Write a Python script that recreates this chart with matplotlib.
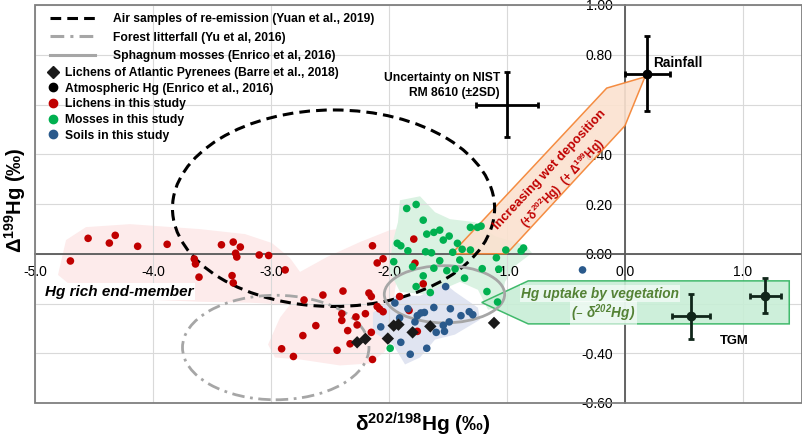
import matplotlib
matplotlib.use('Agg')
import matplotlib.pyplot as plt
from matplotlib.patches import Ellipse, Polygon, Rectangle
from matplotlib.lines import Line2D
import numpy as np

plt.rcParams['font.family'] = ['Liberation Sans', 'DejaVu Sans']
plt.rcParams['mathtext.default'] = 'regular'
plt.rcParams['axes.unicode_minus'] = False

# --- data (per mil) ---
lichens_x = [-4.55, -4.70, -4.37, -4.32, -4.13, -3.88, -3.65, -3.64, -3.61, -3.42,
             -3.32, -3.26, -3.30, -3.29, -3.33, -3.32, -3.10, -3.02, -2.88, -2.72,
             -2.56, -2.39, -2.14, -2.10, -2.05, -2.17, -2.15, -2.10, -2.08, -2.05,
             -2.20, -2.40, -2.40, -2.28, -2.27, -2.35, -2.62, -2.73, -2.33, -2.44,
             -2.91, -2.81, -2.14, -1.79, -1.78, -1.71, -1.91, -1.83, -1.76, -2.15]
lichens_y = [0.062, -0.029, 0.043, 0.074, 0.030, 0.038, -0.021, -0.041, -0.094, 0.036,
             0.047, 0.027, 0.002, -0.013, -0.088, -0.117, -0.005, -0.007, -0.065, -0.186,
             -0.166, -0.150, 0.032, -0.037, -0.020, -0.158, -0.172, -0.212, -0.222, -0.233,
             -0.241, -0.241, -0.268, -0.254, -0.286, -0.309, -0.289, -0.329, -0.362, -0.388,
             -0.382, -0.413, -0.425, 0.059, -0.038, -0.121, -0.172, -0.228, -0.312, -0.316]

mosses_x = [-1.85, -1.77, -1.71, -1.68, -1.62, -1.57, -1.49, -1.54, -1.31, -1.25,
            -1.42, -1.93, -1.90, -1.84, -1.69, -1.64, -1.46, -1.38, -1.31, -1.09,
            -1.01, -0.88, -1.57, -1.40, -1.80, -1.62, -1.51, -1.44, -1.21, -1.71,
            -1.36, -1.77, -1.65, -1.17, -1.08, -1.99, -1.96, -1.22, -0.86, -1.07]
mosses_y = [0.182, 0.198, 0.135, 0.079, 0.086, 0.095, 0.071, 0.055, 0.106, 0.106,
            0.042, 0.042, 0.032, 0.012, 0.008, 0.004, 0.006, 0.018, 0.015, -0.016,
            0.015, 0.011, -0.028, -0.025, -0.052, -0.058, -0.068, -0.061, -0.060, -0.089,
            -0.098, -0.132, -0.156, -0.152, -0.194, -0.380, -0.032, 0.111, 0.023, -0.062]

soils_x = [-1.95, -1.91, -1.84, -1.76, -1.73, -1.70, -1.62, -1.48, -1.39, -1.32, -1.29,
           -1.49, -1.54, -1.60, -1.53, -2.07, -1.90, -1.82, -1.68, -1.52, -0.36, -1.78]
soils_y = [-0.198, -0.258, -0.221, -0.249, -0.238, -0.236, -0.216, -0.221, -0.249, -0.233, -0.245,
           -0.274, -0.288, -0.316, -0.312, -0.294, -0.356, -0.404, -0.380, -0.132, -0.065, -0.274]

pyrenees_x = [-2.27, -2.20, -2.01, -1.96, -1.92, -1.80, -1.65, -1.11]
pyrenees_y = [-0.356, -0.342, -0.341, -0.289, -0.285, -0.316, -0.292, -0.278]

rain_x, rain_y, rain_xerr, rain_yerr = [0.19], [0.724], [0.19], [0.15]
tgm_x = [0.56, 1.19]
tgm_y = [-0.252, -0.169]
tgm_xerr = [0.16, 0.13]
tgm_yerr = [0.09, 0.07]

nist_x, nist_y, nist_xerr, nist_yerr = -1.00, 0.60, 0.26, 0.13

# reference fields: centre x, centre y, width, height
air_ell = (-2.47, 0.183, 2.73, 0.79)
litter_ell = (-2.96, -0.377, 1.58, 0.42)
sphagnum_ell = (-1.53, -0.163, 1.02, 0.23)

# shaded groups (outline in data units)
pink_x = [-4.805, -4.737, -4.568, -4.195, -3.602, -3.220, -2.992, -2.839, -2.754, -2.525,
          -2.246, -1.992, -1.864, -1.805, -1.907, -1.949, -1.992, -2.034, -2.161, -2.415,
          -2.754, -2.966, -3.025, -2.924, -2.839, -3.178, -3.602, -4.025, -4.449, -4.703]
pink_y = [-0.085, 0.055, 0.107, 0.119, 0.099, 0.079, 0.043, -0.017, -0.073, -0.013,
          0.047, 0.095, 0.103, 0.055, -0.033, -0.145, -0.305, -0.393, -0.441, -0.449,
          -0.425, -0.417, -0.365, -0.257, -0.205, -0.197, -0.193, -0.185, -0.153, -0.125]
greenzone_x = [-1.907, -1.737, -1.610, -1.483, -1.271, -1.102, -0.847, -0.788, -0.932, -1.017,
               -1.059, -1.161, -1.246, -1.398, -1.653, -1.907, -1.992, -1.975, -1.924]
greenzone_y = [0.215, 0.231, 0.167, 0.139, 0.127, 0.071, 0.035, 0.003, -0.049, -0.113,
               -0.217, -0.225, -0.145, -0.113, -0.165, -0.153, -0.073, 0.035, 0.127]
bluezone_x = [-2.136, -1.949, -1.737, -1.525, -1.441, -1.246, -1.229, -1.441, -1.610,
              -1.737, -1.864, -1.966, -2.136]
bluezone_y = [-0.237, -0.169, -0.169, -0.121, -0.153, -0.217, -0.265, -0.325, -0.345,
              -0.417, -0.445, -0.365, -0.313]

# arrows
wet_x = [-1.469, -0.155, 0.169, 0.0, -1.003]
wet_y = [0.0, 0.666, 0.711, 0.515, 0.0]
veg_x = [1.392, -0.820, -1.214, -0.820, 1.392]
veg_y = [-0.109, -0.109, -0.196, -0.282, -0.282]

xticks = [-5, -4, -3, -2, -1, 0, 1]
yticks = [-0.6, -0.4, -0.2, 0.0, 0.2, 0.4, 0.6, 0.8, 1.0]
# labels hidden under the two arrows in the original
yhidden = [-0.2, 0.6]

red = '#c00000'
green = '#00b050'
blue = '#2a5a8c'

fig = plt.figure(figsize=(8.03, 4.38), dpi=100)
ax = fig.add_axes([35/803, 35/438, 767/803, 398/438])
ax.set_xlim(-5, 1.5)
ax.set_ylim(-0.6, 1.0)

# axes through zero + frame
ax.spines['left'].set_position(('data', 0))
ax.spines['bottom'].set_position(('data', 0))
ax.spines['top'].set_visible(False)
ax.spines['right'].set_visible(False)
for s in ['left', 'bottom']:
    ax.spines[s].set_color('#595959')
    ax.spines[s].set_linewidth(1.3)
ax.add_patch(Rectangle((0, 0), 1, 1, transform=ax.transAxes, fill=False,
                       ec='#7f7f7f', lw=1.3, clip_on=False, zorder=6))
ax.set_xticks(xticks)
ax.set_xticklabels(['%.1f' % v for v in xticks])
ax.set_yticks(yticks)
ax.set_yticklabels(['' if v in yhidden else '%.2f' % v for v in yticks])
ax.tick_params(length=0, labelsize=10)
ax.tick_params(axis='x', pad=8)
ax.tick_params(axis='y', pad=9)
ax.grid(True, color='#d9d9d9', lw=0.8)
ax.set_axisbelow(True)

# shaded groups
ax.add_patch(Polygon(np.column_stack([pink_x, pink_y]), closed=True, fc='#fdebeb', ec='none', zorder=0.3))
ax.add_patch(Polygon(np.column_stack([greenzone_x, greenzone_y]), closed=True, fc='#daf2e2', ec='none', zorder=0.35))
ax.add_patch(Polygon(np.column_stack([bluezone_x, bluezone_y]), closed=True, fc='#e0e4f1', ec='none', zorder=0.36))

# arrows
ax.add_patch(Polygon(np.column_stack([wet_x, wet_y]), closed=True, fc='#fbe2d0', ec='#f4812f',
                     lw=1.1, alpha=0.9, zorder=2.8))
ax.add_patch(Polygon(np.column_stack([veg_x, veg_y]), closed=True, fc='#c8eed6', ec='#2fb35e',
                     lw=1.1, alpha=0.9, zorder=2.8))

# literature fields
ax.add_patch(Ellipse(air_ell[:2], air_ell[2], air_ell[3], fill=False, ec='black', lw=2.2,
                     ls=(0, (3.5, 2)), zorder=3))
ax.add_patch(Ellipse(litter_ell[:2], litter_ell[2], litter_ell[3], fill=False, ec='#a6a6a6', lw=2.0,
                     ls=(0, (4.5, 2, 1, 2)), zorder=3))
ax.add_patch(Ellipse(sphagnum_ell[:2], sphagnum_ell[2], sphagnum_ell[3], fill=False, ec='#a6a6a6',
                     lw=2.0, zorder=3))

# samples
ax.scatter(lichens_x, lichens_y, s=30, c=red, edgecolors='none', zorder=4)
ax.scatter(mosses_x, mosses_y, s=30, c=green, edgecolors='none', zorder=4)
ax.scatter(soils_x, soils_y, s=30, c=blue, edgecolors='none', zorder=4)
ax.scatter(pyrenees_x, pyrenees_y, s=40, c='#1a1a1a', marker='D', edgecolors='none', zorder=4.5)

ax.errorbar(rain_x, rain_y, xerr=rain_xerr, yerr=rain_yerr, fmt='o', color='black', ms=6,
            elinewidth=2, capsize=2.5, capthick=2, zorder=5)
ax.errorbar(tgm_x, tgm_y, xerr=tgm_xerr, yerr=tgm_yerr, fmt='o', color='#10261a', ms=6,
            elinewidth=2, capsize=2.5, capthick=2, zorder=5)
ax.errorbar(nist_x, nist_y, xerr=nist_xerr, yerr=nist_yerr, fmt='none', ecolor='black',
            elinewidth=2, capsize=2.5, capthick=2, zorder=5)

# annotations
ax.text(-1.059, 0.675, 'Uncertainty on NIST\nRM 8610 (±2SD)', ha='right', va='center',
        multialignment='right', fontsize=8.7, weight='bold', linespacing=1.35, zorder=6)
ax.text(0.235, 0.767, 'Rainfall', ha='left', va='center', fontsize=9.8, weight='bold', zorder=6)
ax.text(0.805, -0.352, 'TGM', ha='left', va='center', fontsize=9.4, weight='bold', zorder=6)
ax.text(-4.915, -0.152, 'Hg rich end-member', ha='left', va='center', fontsize=11,
        weight='bold', style='italic', zorder=6,
        bbox=dict(facecolor='white', edgecolor='none', pad=1))
ax.text(-0.64, 0.338, 'Increasing wet deposition', rotation=47, rotation_mode='anchor',
        ha='center', va='center', color=red, fontsize=9.4, weight='bold', zorder=6)
ax.text(-0.525, 0.282, '(+δ$^{202}$Hg)  (+ Δ$^{199}$Hg)', rotation=47, rotation_mode='anchor',
        ha='center', va='center', color=red, fontsize=8.5, weight='bold', zorder=6)
ax.text(-0.212, -0.161, 'Hg uptake by vegetation', ha='center', va='center', color='#548235',
        fontsize=9.8, weight='bold', style='italic', zorder=6,
        bbox=dict(facecolor='white', alpha=0.6, edgecolor='none', pad=1))
ax.text(-0.186, -0.237, '(– δ$^{202}$Hg)', ha='center', va='center', color='#548235',
        fontsize=9.8, weight='bold', style='italic', zorder=6,
        bbox=dict(facecolor='white', alpha=0.6, edgecolor='none', pad=1))

# axis titles
fig.text(423/803, 1-424/438, 'δ$^{202/198}$Hg (‰)', ha='center', va='center', fontsize=15, weight='bold')
fig.text(15/803, 1-200/438, 'Δ$^{199}$Hg (‰)', ha='center', va='center', rotation=90,
         fontsize=14.5, weight='bold')

# legends
leg_font = {'weight': 'bold', 'size': 8.7}
line_handles = [Line2D([], [], color='black', lw=2.2, ls=(0, (3.5, 2))),
                Line2D([], [], color='#a6a6a6', lw=2.2, ls=(0, (4.5, 2, 1, 2))),
                Line2D([], [], color='#a6a6a6', lw=2.2)]
line_labels = ['Air samples of re-emission (Yuan et al., 2019)',
               'Forest litterfall (Yu et al, 2016)',
               'Sphagnum mosses (Enrico et al, 2016)']
leg1 = ax.legend(line_handles, line_labels, loc='upper left', bbox_to_anchor=(50/803, 1-13/438),
                 bbox_transform=fig.transFigure, frameon=False, prop=leg_font, handlelength=3.7,
                 handletextpad=1.5, labelspacing=0.55, borderpad=0, borderaxespad=0)
ax.add_artist(leg1)

marker_handles = [Line2D([], [], ls='none', marker='D', color='#1a1a1a', ms=6),
                  Line2D([], [], ls='none', marker='o', color='black', ms=6),
                  Line2D([], [], ls='none', marker='o', color=red, ms=6),
                  Line2D([], [], ls='none', marker='o', color=green, ms=6),
                  Line2D([], [], ls='none', marker='o', color=blue, ms=6)]
marker_labels = ['Lichens of Atlantic Pyrenees (Barre et al., 2018)',
                 'Atmospheric Hg (Enrico et al., 2016)',
                 'Lichens in this study',
                 'Mosses in this study',
                 'Soils in this study']
leg2 = ax.legend(marker_handles, marker_labels, loc='upper left', bbox_to_anchor=(48.5/803, 1-67/438),
                 bbox_transform=fig.transFigure, frameon=False, prop=leg_font, handlelength=0.8,
                 handletextpad=0.55, labelspacing=0.3, borderpad=0, borderaxespad=0)
leg1.set_zorder(7)
leg2.set_zorder(7)

fig.savefig('out.png', dpi=100)
